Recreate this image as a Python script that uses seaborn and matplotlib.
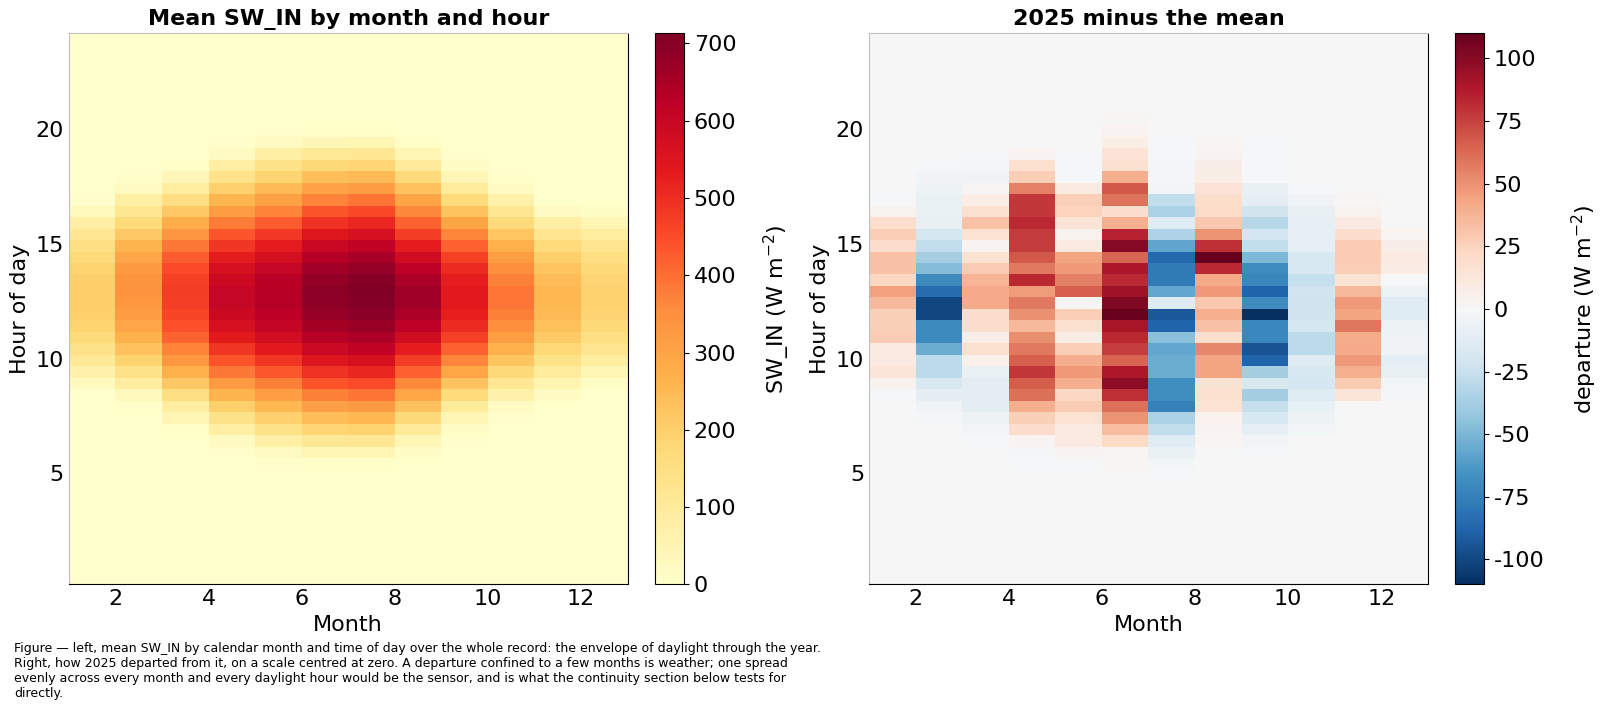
import numpy as np
import pandas as pd
import matplotlib
matplotlib.use("Agg")
import matplotlib.pyplot as plt
import seaborn as sns

# Half-hour slots (end of slot, hours) and calendar months
months = list(range(1, 13))
slot_hours = np.arange(1, 49) * 0.5        # 0.5 ... 24.0
day_hours = np.arange(10, 42) * 0.5        # 5.0 ... 20.5 : rows typed below (rest is 0)

# Mean SW_IN (W m-2) per month, slots 05:00 ... 20:30
mean_jan = [0, 0, 0, 0, 0, 0, 0, 0, 32, 70, 110, 140, 170, 190, 200, 205,
            205, 200, 190, 172, 148, 118, 82, 30, 5, 0, 0, 0, 0, 0, 0, 0]
mean_feb = [0, 0, 0, 0, 0, 0, 8, 35, 90, 140, 192, 232, 268, 296, 320, 333,
            340, 338, 325, 297, 262, 217, 170, 118, 80, 25, 5, 0, 0, 0, 0, 0]
mean_mar = [0, 0, 0, 0, 8, 45, 90, 155, 215, 272, 330, 370, 415, 445, 462, 472,
            474, 468, 452, 425, 385, 335, 280, 215, 155, 90, 40, 8, 0, 0, 0, 0]
mean_apr = [0, 0, 3, 25, 80, 138, 198, 262, 325, 385, 440, 490, 533, 566, 590, 602,
            604, 590, 565, 530, 486, 436, 380, 320, 258, 196, 136, 80, 25, 3, 0, 0]
mean_may = [0, 4, 25, 82, 140, 195, 252, 315, 375, 432, 488, 535, 577, 605, 623, 632,
            635, 625, 603, 572, 530, 482, 428, 370, 310, 248, 188, 135, 80, 22, 3, 0]
mean_jun = [0, 10, 45, 112, 182, 245, 312, 375, 438, 495, 548, 592, 630, 658, 678, 688,
            692, 682, 662, 632, 595, 548, 495, 435, 370, 305, 238, 178, 110, 42, 10, 0]
mean_jul = [0, 10, 48, 118, 190, 256, 325, 390, 452, 512, 565, 610, 648, 675, 695, 706,
            713, 702, 682, 652, 612, 565, 512, 455, 390, 320, 250, 185, 115, 45, 10, 0]
mean_aug = [0, 2, 15, 45, 105, 172, 232, 300, 360, 418, 475, 530, 580, 620, 648, 663,
            663, 648, 620, 580, 530, 475, 418, 360, 300, 232, 172, 105, 45, 15, 2, 0]
mean_sep = [0, 0, 0, 5, 15, 45, 100, 165, 230, 300, 365, 420, 468, 505, 528, 540,
            540, 528, 505, 468, 420, 365, 300, 230, 165, 100, 45, 15, 5, 0, 0, 0]
mean_oct = [0, 0, 0, 0, 0, 3, 20, 70, 118, 172, 225, 272, 315, 350, 375, 388,
            388, 375, 350, 315, 272, 225, 172, 118, 70, 20, 3, 0, 0, 0, 0, 0]
mean_nov = [0, 0, 0, 0, 0, 0, 2, 20, 58, 100, 140, 180, 212, 236, 250, 255,
            254, 246, 228, 200, 165, 125, 80, 22, 2, 0, 0, 0, 0, 0, 0, 0]
mean_dec = [0, 0, 0, 0, 0, 0, 0, 0, 12, 45, 90, 125, 152, 173, 187, 194,
            194, 187, 173, 152, 125, 90, 45, 12, 0, 0, 0, 0, 0, 0, 0, 0]

# 2025 minus the mean (W m-2), same slots
dep_jan = [0, 0, 0, 0, 0, 0, 0, -1, 5, 14, 10, 10, 28, 26, 26, 36,
           45, 24, 32, 32, 20, 27, 20, 4, -1, 0, 0, 0, 0, 0, 0, 0]
dep_feb = [0, 0, 0, 0, 0, -2, -5, -11, -18, -30, -30, -55, -70, -70, -100, -100,
           -85, -70, -48, -37, -27, -19, -8, -7, -7, -6, -4, -1, 0, 0, 0, 0]
dep_mar = [0, 0, 0, -1, -4, -6, -12, -12, -12, -7, 6, 18, 7, 19, 20, 42,
           42, 37, 28, 16, 3, 16, 32, 18, 8, 1, -5, -2, -1, 0, 0, 0]
dep_apr = [0, -1, -2, 3, 20, 26, 40, 61, 67, 79, 66, 58, 51, 36, 50, 58,
           47, 83, 58, 68, 77, 77, 83, 78, 78, 55, 27, 18, 3, 0, 0, 0]
dep_may = [0, -1, 3, 10, 10, 16, 28, 23, 40, 48, 40, 27, 8, 18, 27, 1,
           66, 55, 48, 44, 10, 4, 15, 25, 26, 10, -1, -1, -1, 0, 0, 0]
dep_jun = [0, 1, 2, 22, 34, 49, 61, 80, 98, 89, 64, 76, 83, 91, 109, 103,
           93, 83, 90, 64, 100, 85, 40, 19, 60, 68, 40, 18, 15, 8, 3, 1]
dep_jul = [-1, -3, -7, -13, -27, -35, -74, -68, -68, -55, -55, -57, -46, -88, -93, -14,
           -57, -78, -78, -86, -58, -34, -13, -35, -27, -3, -2, -2, -1, -1, 0, 0]
dep_aug = [0, 0, 0, 2, 3, 5, 15, 18, 16, 43, 43, 54, 19, 32, 40, 30,
           48, 42, 83, 110, 80, 49, 30, 21, 19, 15, 8, 7, 3, 2, 0, 0]
dep_sep = [0, 0, -1, -4, -10, -18, -26, -37, -18, -37, -88, -95, -72, -72, -110, -69,
           -88, -72, -69, -49, -27, -20, -31, -21, -11, -8, -1, -1, -1, -1, 0, 0]
dep_oct = [0, 0, 0, 0, -3, -6, -9, -14, -19, -18, -14, -30, -30, -19, -23, -23,
           -22, -26, -18, -18, -10, -10, -10, -8, -5, -1, 0, 0, 0, 0, 0, 0]
dep_nov = [0, 0, 0, 0, 0, 0, 0, 14, 28, 40, 48, 42, 41, 59, 43, 48,
           36, 16, 27, 28, 28, 20, 10, 4, 1, 0, 0, 0, 0, 0, 0, 0]
dep_dec = [0, 0, 0, 0, 0, 0, 0, -2, -3, -8, -11, -5, -5, -6, -13, -13,
           -6, -1, 8, 10, 7, 2, 0, 0, 0, 0, 0, 0, 0, 0, 0, 0]

mean_cols = [mean_jan, mean_feb, mean_mar, mean_apr, mean_may, mean_jun,
             mean_jul, mean_aug, mean_sep, mean_oct, mean_nov, mean_dec]
dep_cols = [dep_jan, dep_feb, dep_mar, dep_apr, dep_may, dep_jun,
            dep_jul, dep_aug, dep_sep, dep_oct, dep_nov, dep_dec]

caption = ("Figure \u2014 left, mean SW_IN by calendar month and time of day over the whole record: "
           "the envelope of daylight through the year.\n"
           "Right, how 2025 departed from it, on a scale centred at zero. A departure confined to a "
           "few months is weather; one spread\n"
           "evenly across every month and every daylight hour would be the sensor, and is what the "
           "continuity section below tests for\n"
           "directly.")


def to_frame(cols):
    df = pd.DataFrame(0.0, index=slot_hours, columns=months)
    for m, vals in zip(months, cols):
        df.loc[day_hours, m] = vals
    return df


mean_df = to_frame(mean_cols)
dep_df = to_frame(dep_cols)

plt.rcParams["axes.unicode_minus"] = False
plt.rcParams["font.family"] = ["DejaVu Sans"]

fig = plt.figure(figsize=(16.1, 7.11), dpi=100)
ax1 = fig.add_axes([0.0428, 0.178, 0.347, 0.775])
cax1 = fig.add_axes([0.4068, 0.178, 0.018, 0.775])
ax2 = fig.add_axes([0.5398, 0.178, 0.347, 0.775])
cax2 = fig.add_axes([0.9037, 0.178, 0.018, 0.775])

sns.heatmap(mean_df, ax=ax1, cbar_ax=cax1, cmap="YlOrRd", vmin=0,
            vmax=mean_df.values.max())
sns.heatmap(dep_df, ax=ax2, cbar_ax=cax2, cmap="RdBu_r", vmin=-110, vmax=110)

# month m is drawn in column m-1; hour h sits in row 2h-1
month_ticks = [2, 4, 6, 8, 10, 12]
hour_ticks = [5, 10, 15, 20]

panels = [(ax1, cax1, "Mean SW_IN by month and hour", "SW_IN (W m$^{-2}$)",
           range(0, 701, 100)),
          (ax2, cax2, "2025 minus the mean", "departure (W m$^{-2}$)",
           range(-100, 101, 25))]

for ax, cax, title, clabel, cticks in panels:
    ax.set_ylim(0, len(slot_hours))
    ax.set_xticks([m - 1 for m in month_ticks])
    ax.set_xticklabels([str(m) for m in month_ticks], rotation=0)
    ax.set_yticks([2 * h - 0.5 for h in hour_ticks])
    ax.set_yticklabels([str(h) for h in hour_ticks], rotation=0)
    ax.tick_params(labelsize=16, length=0)
    ax.set_xlabel("Month", fontsize=16)
    ax.set_ylabel("Hour of day", fontsize=16)
    ax.set_title(title, fontsize=16, fontweight="bold")
    for side, sp in ax.spines.items():
        sp.set_visible(True)
        sp.set_linewidth(0.8)
        sp.set_color("#c0c0c0" if side in ("left", "top") else "black")

    cb = ax.collections[0].colorbar
    cb.outline.set_visible(True)
    cb.outline.set_linewidth(0.8)
    cb.outline.set_edgecolor("black")
    cb.set_ticks(list(cticks))
    cb.set_ticklabels([str(t) for t in cticks])
    cax.tick_params(labelsize=16, length=3.5, width=0.8)
    cax.set_ylabel(clabel, fontsize=16, labelpad=18)

fig.text(0.009, 0.097, caption, fontsize=9, ha="left", va="top")

fig.savefig("out.png", dpi=100)
